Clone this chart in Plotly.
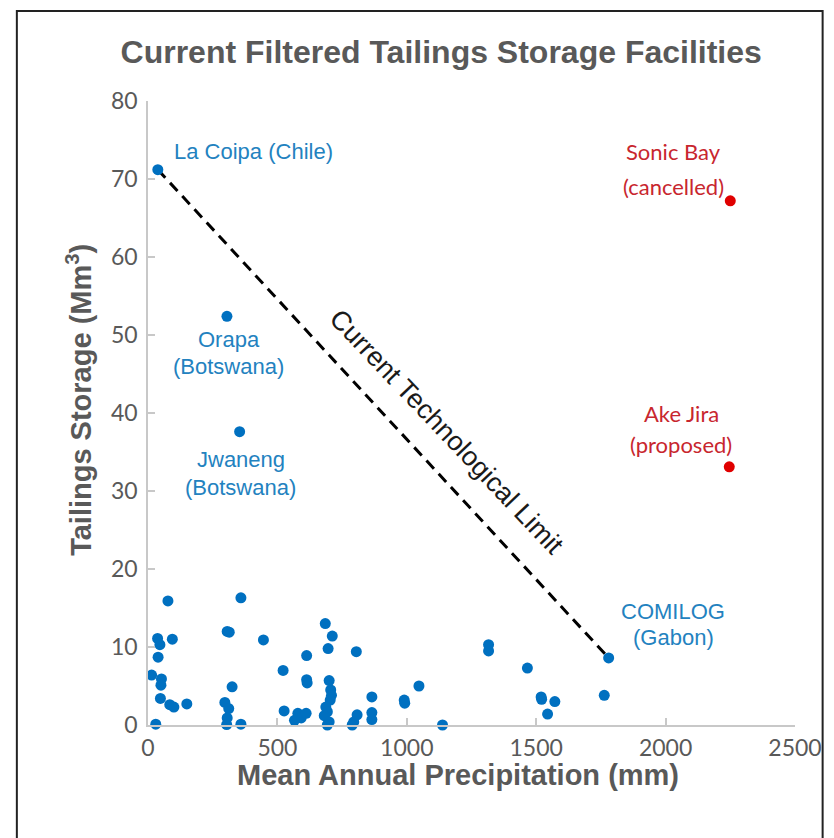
import plotly.graph_objects as go

# ---- data ----
other_precip = [77, 359, 37, 46, 39, 94, 14, 52, 50, 48, 84, 100, 150, 30,
                306, 314, 325, 297, 312, 306, 304, 359, 446, 522, 526,
                613, 613, 615, 579, 592, 611, 566,
                685, 712, 696, 700, 706, 709, 704, 687, 693, 681, 700, 693,
                805, 795, 808, 789, 865, 865, 865,
                990, 992, 1047, 1138, 1316, 1316, 1466,
                1519, 1521, 1572, 1544, 1763]
other_storage = [15.9, 16.3, 11.1, 10.3, 8.7, 11.0, 6.4, 5.9, 5.1, 3.4, 2.6, 2.3, 2.7, 0.1,
                 12.0, 11.9, 4.9, 2.9, 2.1, 0.9, 0.05, 0.1, 10.9, 7.0, 1.8,
                 8.9, 5.8, 5.4, 1.5, 0.9, 1.5, 0.6,
                 13.0, 11.4, 9.8, 5.7, 4.5, 3.8, 3.2, 2.3, 1.7, 1.2, 0.4, 0.0,
                 9.4, 0.4, 1.3, 0.0, 3.6, 1.6, 0.7,
                 3.2, 2.8, 5.0, 0.0, 10.3, 9.5, 7.3,
                 3.6, 3.3, 3.0, 1.4, 3.8]

named_sites = ["La Coipa", "Orapa", "Jwaneng", "COMILOG"]
named_precip = [38, 305, 354, 1780]
named_storage = [71.2, 52.4, 37.6, 8.6]

future_sites = ["Sonic Bay", "Ake Jira"]
future_precip = [2250, 2246]
future_storage = [67.2, 33.1]

x_ticks = [0, 500, 1000, 1500, 2000, 2500]
y_ticks = [0, 10, 20, 30, 40, 50, 60, 70, 80]

BLUE = "#0070C0"
BLUE_TXT = "#2382BF"
RED = "#E00000"
RED_TXT = "#C8262E"
GRAY = "#595959"
AXIS = "#C8C8C8"

fig = go.Figure()

# technological limit line: from La Coipa to COMILOG
fig.add_trace(go.Scatter(
    x=[named_precip[0], named_precip[3]], y=[named_storage[0], named_storage[3]],
    mode="lines", line=dict(color="black", width=3, dash="11px,7px"),
    hoverinfo="skip", showlegend=False))

fig.add_trace(go.Scatter(
    x=other_precip, y=other_storage, mode="markers",
    marker=dict(color=BLUE, size=11), cliponaxis=False, showlegend=False))
fig.add_trace(go.Scatter(
    x=named_precip, y=named_storage, mode="markers", text=named_sites,
    marker=dict(color=BLUE, size=11), cliponaxis=False, showlegend=False))
fig.add_trace(go.Scatter(
    x=future_precip, y=future_storage, mode="markers", text=future_sites,
    marker=dict(color=RED, size=11), cliponaxis=False, showlegend=False))

blue_font = dict(family="Liberation Sans, Arial, sans-serif", size=22, color=BLUE_TXT)
red_font = dict(family="Lato, sans-serif", size=22, color=RED_TXT)

labels = [
    ("La Coipa (Chile)", 408, 73.5, blue_font),
    ("Orapa", 312, 49.4, blue_font),
    ("(Botswana)", 312, 45.9, blue_font),
    ("Jwaneng", 358, 34.0, blue_font),
    ("(Botswana)", 358, 30.5, blue_font),
    ("COMILOG", 2030, 14.5, blue_font),
    ("(Gabon)", 2030, 11.2, blue_font),
    ("Sonic Bay", 2031, 73.5, red_font),
    ("(cancelled)", 2031, 69.0, red_font),
    ("Ake Jira", 2060, 40.0, red_font),
    ("(proposed)", 2060, 35.9, red_font),
]
for txt, lx, ly, f in labels:
    fig.add_annotation(x=lx, y=ly, text=txt, showarrow=False, font=f,
                       xanchor="center", yanchor="middle")

fig.add_annotation(x=1155, y=37.6, text="Current Technological Limit", showarrow=False,
                   textangle=46.5,
                   font=dict(family="Liberation Sans, Arial, sans-serif", size=27, color="#1a1a1a"))

# axis titles
title_font = dict(family="Liberation Sans, Arial, sans-serif", size=29, color=GRAY)
fig.add_annotation(xref="paper", yref="paper", x=0.479, y=-0.080,
                   text="<b>Mean Annual Precipitation (mm)</b>", showarrow=False,
                   xanchor="center", yanchor="middle", font=title_font)
fig.add_annotation(xref="paper", yref="paper", x=-0.1067, y=0.521,
                   text="<b>Tailings Storage (Mm<sup>3</sup>)</b>", showarrow=False,
                   textangle=-90, xanchor="center", yanchor="middle", font=title_font)

# outer frame
fig.add_shape(type="rect", xref="paper", yref="paper",
              x0=-0.2027, x1=1.0427, y0=-0.195, y1=1.1442,
              line=dict(color="#222222", width=2), fillcolor="rgba(0,0,0,0)")

fig.update_layout(
    width=834, height=838,
    margin=dict(l=148, r=30, t=101, b=113),
    paper_bgcolor="white", plot_bgcolor="white",
    title=dict(text="<b>Current Filtered Tailings Storage Facilities</b>",
               x=0.529, xref="container", xanchor="center",
               y=1 - 52 / 838, yref="container", yanchor="middle",
               font=dict(family="Liberation Sans, Arial, sans-serif", size=32, color=GRAY)),
    xaxis=dict(range=[0, 2500], tickvals=x_ticks, ticktext=[str(v) for v in x_ticks],
               showgrid=False, zeroline=False, showline=True, linecolor=AXIS, linewidth=1.5,
               ticks="inside", ticklen=7, tickcolor=AXIS, tickwidth=1.5,
               ticklabelstandoff=2,
               tickfont=dict(family="Lato, sans-serif", size=23, color=GRAY)),
    yaxis=dict(range=[0, 80], tickvals=y_ticks,
               showgrid=False, zeroline=False, showline=True, linecolor=AXIS, linewidth=1.5,
               ticks="inside", ticklen=7, tickcolor=AXIS, tickwidth=1.5,
               ticklabelstandoff=4,
               tickfont=dict(family="Lato, sans-serif", size=23, color=GRAY)),
)

fig.write_html("out.html", post_script="document.body.style.margin='0px';",
               config={"displayModeBar": False})
